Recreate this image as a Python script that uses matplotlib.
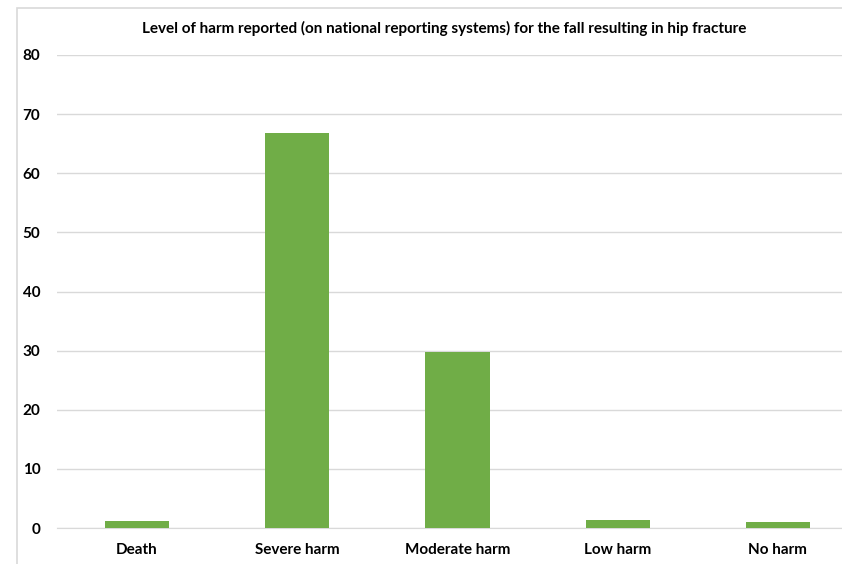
import matplotlib.pyplot as plt
from matplotlib.patches import Rectangle

categories = ['Death', 'Severe harm', 'Moderate harm', 'Low harm', 'No harm']
values = [1.1, 66.8, 29.8, 1.3, 1.0]
yticks = [0, 10, 20, 30, 40, 50, 60, 70, 80]

plt.rcParams['font.family'] = ['Lato', 'DejaVu Sans']

W, H = 842, 564
fig = plt.figure(figsize=(W / 100, H / 100), dpi=100)

# light chart-area border (partly outside the crop)
fig.patches.append(Rectangle((17 / W, -0.1), 1.2, 1 - 8 / H + 0.1,
                             transform=fig.transFigure, fill=False,
                             edgecolor='#d9d9d9', lw=1.2))

ax = fig.add_axes([57 / W, 1 - 528 / H, 801 / W, 473 / H])
x = range(len(categories))
ax.bar(x, values, width=0.4, color='#70ad47', zorder=3)

ax.set_xlim(-0.5, len(categories) - 0.5)
ax.set_ylim(0, 80)
ax.set_yticks(yticks)
ax.set_xticks(list(x))
ax.set_xticklabels(categories, fontsize=11, fontweight='bold')
ax.set_yticklabels([str(t) for t in yticks], fontsize=11, fontweight='bold')
ax.tick_params(axis='both', length=0, colors='black')
ax.tick_params(axis='y', pad=12)
ax.tick_params(axis='x', pad=11)

ax.grid(axis='y', color='#d9d9d9', lw=1, zorder=0)
for s in ['top', 'right', 'left']:
    ax.spines[s].set_visible(False)
ax.spines['bottom'].set_color('#d9d9d9')

fig.text(444 / W, 1 - 28 / H,
         'Level of harm reported (on national reporting systems) for the fall resulting in hip fracture',
         ha='center', va='center', fontsize=11, fontweight='bold')

fig.savefig('out.png', dpi=100)
